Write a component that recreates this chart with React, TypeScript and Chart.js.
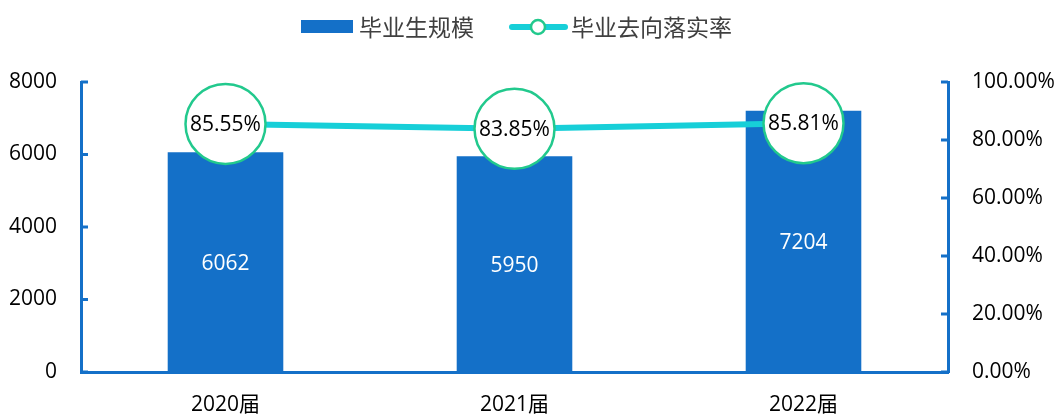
import React, { useEffect, useRef } from "react";
import { Chart, registerables } from "chart.js";

Chart.register(...registerables);

const categories = ["2020届", "2021届", "2022届"];
const graduates = [6062, 5950, 7204];
const placementRate = [85.55, 83.85, 85.81];
const leftTicks = { min: 0, max: 8000, step: 2000 };
const rightTicks = { min: 0, max: 100, step: 20 };
const legendLabels = ["毕业生规模", "毕业去向落实率"];

const BLUE = "#1470C8";
const CYAN = "#17CFD8";
const GREEN = "#22C98D";
const FONT = "'Open Sans', 'Noto Sans CJK SC', sans-serif";

const overlayPlugin = {
  id: "overlay",
  afterDraw(chart: any) {
    const ctx = chart.ctx;
    const area = chart.chartArea;
    // inward tick marks
    ctx.save();
    ctx.strokeStyle = BLUE;
    ctx.lineWidth = 3;
    const yl = chart.scales.y;
    yl.ticks.forEach((t: any) => {
      const py = yl.getPixelForValue(t.value);
      ctx.beginPath();
      ctx.moveTo(area.left, py);
      ctx.lineTo(area.left + 7, py);
      ctx.stroke();
    });
    const yr = chart.scales.y1;
    yr.ticks.forEach((t: any) => {
      const py = yr.getPixelForValue(t.value);
      ctx.beginPath();
      ctx.moveTo(area.right, py);
      ctx.lineTo(area.right - 7, py);
      ctx.stroke();
    });
    ctx.restore();

    // bar labels
    ctx.save();
    ctx.font = `21px ${FONT}`;
    ctx.textAlign = "center";
    ctx.textBaseline = "middle";
    const barMeta = chart.getDatasetMeta(0);
    barMeta.data.forEach((el: any, i: number) => {
      ctx.fillStyle = "#FFFFFF";
      ctx.fillText(String(graduates[i]), el.x, (el.y + el.base) / 2 + 2);
    });
    const lineMeta = chart.getDatasetMeta(1);
    lineMeta.data.forEach((el: any, i: number) => {
      ctx.fillStyle = "#000000";
      ctx.fillText(placementRate[i].toFixed(2) + "%", el.x, el.y + 1);
    });
    ctx.restore();

    // legend
    ctx.save();
    ctx.fillStyle = BLUE;
    ctx.fillRect(301, 20, 52, 13);
    ctx.font = `23px 'Noto Sans CJK SC', sans-serif`;
    ctx.textBaseline = "middle";
    ctx.textAlign = "left";
    ctx.fillStyle = "#404040";
    ctx.fillText(legendLabels[0], 359, 27);
    ctx.strokeStyle = CYAN;
    ctx.lineWidth = 6;
    ctx.lineCap = "round";
    ctx.beginPath();
    ctx.moveTo(512, 27);
    ctx.lineTo(565, 27);
    ctx.stroke();
    ctx.beginPath();
    ctx.arc(538, 27, 7, 0, Math.PI * 2);
    ctx.fillStyle = "#FFFFFF";
    ctx.fill();
    ctx.lineWidth = 2.5;
    ctx.strokeStyle = GREEN;
    ctx.stroke();
    ctx.fillStyle = "#404040";
    ctx.fillText(legendLabels[1], 571, 27);
    ctx.restore();
  },
};

export default function App() {
  const ref = useRef<HTMLCanvasElement>(null);
  useEffect(() => {
    if (!ref.current) return;
    const chart = new Chart(ref.current, {
      type: "bar",
      data: {
        labels: categories,
        datasets: [
          {
            type: "bar",
            label: legendLabels[0],
            data: graduates,
            backgroundColor: BLUE,
            barPercentage: 0.4,
            categoryPercentage: 1,
            yAxisID: "y",
            order: 1,
          },
          {
            type: "line",
            label: legendLabels[1],
            data: placementRate,
            borderColor: CYAN,
            borderWidth: 6,
            pointRadius: 40,
            pointBackgroundColor: "#FFFFFF",
            pointBorderColor: GREEN,
            pointBorderWidth: 2.5,
            yAxisID: "y1",
            order: 0,
            clip: false,
          } as any,
        ],
      },
      options: {
        responsive: false,
        animation: false,
        layout: { padding: { top: 82, left: 0, right: 0, bottom: 0 } },
        plugins: { legend: { display: false }, tooltip: { enabled: false } },
        scales: {
          x: {
            grid: { display: false, drawTicks: false },
            border: { display: true, color: BLUE, width: 3 },
            ticks: { color: "#000", font: { family: FONT, size: 21 }, padding: 20 },
            afterFit(s: any) {
              s.height = 43;
            },
          },
          y: {
            position: "left",
            min: leftTicks.min,
            max: leftTicks.max,
            grid: { display: false, drawTicks: false },
            border: { display: true, color: BLUE, width: 3 },
            ticks: {
              stepSize: leftTicks.step,
              color: "#000",
              font: { family: FONT, size: 21 },
              padding: 24,
              callback: (v: any) => String(v),
            },
            afterFit(s: any) {
              s.width = 81;
            },
          },
          y1: {
            position: "right",
            min: rightTicks.min,
            max: rightTicks.max,
            grid: { display: false, drawTicks: false },
            border: { display: true, color: BLUE, width: 3 },
            ticks: {
              stepSize: rightTicks.step,
              color: "#000",
              font: { family: FONT, size: 21 },
              padding: 24,
              callback: (v: any) => Number(v).toFixed(2) + "%",
            },
            afterFit(s: any) {
              s.width = 110;
            },
          },
        },
      },
      plugins: [overlayPlugin],
    });
    return () => chart.destroy();
  }, []);
  return (
    <div style={{ position: "fixed", left: 0, top: 0, width: 1058, height: 415, background: "#fff" }}>
      <canvas ref={ref} width={1058} height={415} />
    </div>
  );
}
